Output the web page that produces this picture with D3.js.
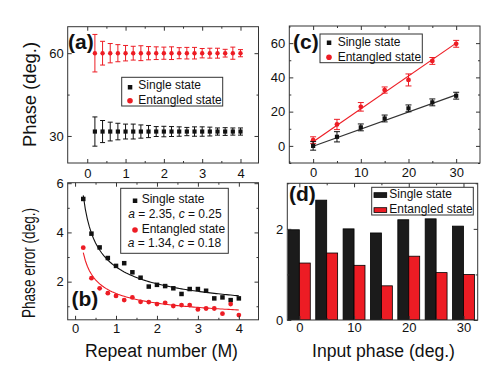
<!DOCTYPE html>
<html>
<head>
<meta charset="utf-8">
<script src="https://cdn.jsdelivr.net/npm/d3@7"></script>
<style>
  body { margin: 0; background: #fff; }
  text { font-family: "Liberation Sans", Arial, sans-serif; fill: #111; }
</style>
</head>
<body>
<script>
// ---- data ----
// (a) measured phase vs repeat number
const repeatM = [0.2, 0.4, 0.6, 0.8, 1.0, 1.2, 1.4, 1.6, 1.8, 2.0, 2.2, 2.4, 2.6, 2.8, 3.0, 3.2, 3.4, 3.6, 3.8, 4.0];
const phaseSingle = [31.6, 31.6, 31.6, 31.6, 31.6, 31.6, 31.6, 31.6, 31.6, 31.6, 31.6, 31.6, 31.6, 31.6, 31.6, 31.6, 31.6, 31.6, 31.6, 31.6];
const phaseSingleErr = [5.3, 4.0, 3.4, 3.0, 2.7, 2.7, 2.4, 2.2, 1.8, 1.9, 1.8, 1.7, 1.5, 1.7, 1.7, 1.6, 1.3, 1.4, 1.3, 1.3];
const phaseEnt = [60, 60, 60, 60, 60, 60, 60, 60, 60, 60, 60, 60, 60, 60, 60, 60, 60, 60, 60, 60];
const phaseEntErr = [6.8, 4.3, 3.5, 3.1, 2.8, 2.5, 2.7, 2.4, 2.3, 2.2, 2.3, 2.0, 2.1, 2.1, 1.7, 1.8, 1.8, 1.4, 2.2, 1.3];

// (b) phase error vs repeat number, fit y = a/sqrt(M) + c
const errSingle = [5.36, 3.95, 3.39, 2.96, 2.64, 2.75, 2.38, 2.16, 1.80, 1.87, 1.82, 1.73, 1.50, 1.70, 1.70, 1.63, 1.32, 1.36, 1.25, 1.32];
const errEnt = [3.38, 2.14, 1.73, 1.53, 1.42, 1.25, 1.36, 1.18, 1.17, 1.09, 1.14, 1.01, 1.05, 1.05, 0.87, 0.91, 0.91, 0.70, 1.09, 0.64];
const fitSingle = [2.35, 0.25]; // a, c
const fitEnt = [1.34, 0.18];

// (c) measured vs input phase
const inputPhase = [0, 5, 10, 15, 20, 25, 30];
const measSingle = [0, 5.3, 10.8, 16, 21.9, 25.4, 29.3];
const measSingleErr = [2.5, 3, 2, 2, 2, 2, 2];
const measEnt = [3.3, 12.5, 22.8, 32.6, 38.5, 49.6, 59.6];
const measEntErr = [2, 3, 2.5, 1.8, 3.5, 2, 2];
const lineX = [0, 30];
const lineSingle = [-0.2, 29.8];
const lineEnt = [2.4, 60];

// (d) phase error per input phase
const barSingle = [1.98, 2.63, 2.0, 1.91, 2.2, 2.22, 2.06];
const barEnt = [1.25, 1.47, 1.2, 0.75, 1.4, 1.04, 1.0];

const RED = "#ed1c24";
const INK = "#111";

const svg = d3.select("body").append("svg")
  .attr("width", 500)
  .attr("height", 374)
  .style("background", "#fff");

// build a framed panel with mirrored ticks
function panel(xr, yr, xd, yd, opt) {
  const x = d3.scaleLinear().domain(xd).range(xr);
  const y = d3.scaleLinear().domain(yd).range(yr);
  const g = svg.append("g");
  const clipId = "clip" + Math.round(xr[0]) + Math.round(yr[1]);
  svg.append("clipPath").attr("id", clipId).append("rect")
    .attr("x", xr[0]).attr("y", yr[1])
    .attr("width", xr[1] - xr[0]).attr("height", yr[0] - yr[1]);
  const plot = g.append("g").attr("clip-path", "url(#" + clipId + ")");

  const ax = (gen, tr) => {
    const a = g.append("g").attr("transform", tr).call(gen);
    a.select(".domain").remove();
    a.selectAll("line").attr("stroke", "#333");
    a.selectAll("text").attr("font-size", 13).attr("fill", INK)
      .style("font-family", "'Liberation Sans', Arial, sans-serif");
    return a;
  };
  // minor
  ax(d3.axisBottom(x).tickValues(opt.xMinor).tickSize(-2).tickFormat(""), `translate(0,${yr[0]})`);
  ax(d3.axisTop(x).tickValues(opt.xMinor).tickSize(-2).tickFormat(""), `translate(0,${yr[1]})`);
  ax(d3.axisLeft(y).tickValues(opt.yMinor).tickSize(-2).tickFormat(""), `translate(${xr[0]},0)`);
  ax(d3.axisRight(y).tickValues(opt.yMinor).tickSize(-2).tickFormat(""), `translate(${xr[1]},0)`);
  // major
  ax(d3.axisBottom(x).tickValues(opt.xMajor).tickSize(-4).tickPadding(opt.xPad).tickFormat(d3.format("d")), `translate(0,${yr[0]})`);
  ax(d3.axisTop(x).tickValues(opt.xMajor).tickSize(-4).tickFormat(""), `translate(0,${yr[1]})`);
  ax(d3.axisLeft(y).tickValues(opt.yMajor).tickSize(-4).tickPadding(4).tickFormat(d3.format("d")), `translate(${xr[0]},0)`);
  ax(d3.axisRight(y).tickValues(opt.yMajor).tickSize(-4).tickFormat(""), `translate(${xr[1]},0)`);

  g.append("rect")
    .attr("x", xr[0]).attr("y", yr[1])
    .attr("width", xr[1] - xr[0]).attr("height", yr[0] - yr[1])
    .attr("fill", "none").attr("stroke", "#333").attr("stroke-width", 1);
  return { x, y, g, plot };
}

function errorBars(p, xs, ys, es, color, cap) {
  const eb = p.plot.append("g").attr("stroke", color).attr("stroke-width", 1);
  xs.forEach((xv, i) => {
    const cx = p.x(xv), y0 = p.y(ys[i] - es[i]), y1 = p.y(ys[i] + es[i]);
    eb.append("line").attr("x1", cx).attr("x2", cx).attr("y1", y0).attr("y2", y1);
    eb.append("line").attr("x1", cx - cap).attr("x2", cx + cap).attr("y1", y0).attr("y2", y0);
    eb.append("line").attr("x1", cx - cap).attr("x2", cx + cap).attr("y1", y1).attr("y2", y1);
  });
}

function squares(p, xs, ys, s, color) {
  p.plot.append("g").selectAll("rect").data(xs).join("rect")
    .attr("x", (d) => p.x(d) - s / 2)
    .attr("y", (d, i) => p.y(ys[i]) - s / 2)
    .attr("width", s).attr("height", s)
    .attr("fill", color);
}

function circles(p, xs, ys, r, color) {
  p.plot.append("g").selectAll("circle").data(xs).join("circle")
    .attr("cx", (d) => p.x(d))
    .attr("cy", (d, i) => p.y(ys[i]))
    .attr("r", r)
    .attr("fill", color);
}

function label(txt, x, y) {
  svg.append("text").attr("x", x).attr("y", y)
    .attr("font-size", 21).attr("font-weight", "bold").text(txt);
}

function legendBox(x, y, w, h) {
  svg.append("rect").attr("x", x).attr("y", y).attr("width", w).attr("height", h)
    .attr("fill", "#fff").attr("stroke", "#333").attr("stroke-width", 1);
}

function legText(x, y, txt, color) {
  return svg.append("text").attr("x", x).attr("y", y)
    .attr("font-size", 12).attr("fill", color || INK).text(txt);
}

// ---- (a) ----
const pa = panel([67.7, 258.5], [163, 26.7], [-0.51, 4.47], [20.2, 69.6], {
  xMajor: [0, 1, 2, 3, 4], xMinor: [0.5, 1.5, 2.5, 3.5],
  yMajor: [30, 60], yMinor: [45], xPad: 6
});
errorBars(pa, repeatM, phaseEnt, phaseEntErr, RED, 2.5);
circles(pa, repeatM, phaseEnt, 2.2, RED);
errorBars(pa, repeatM, phaseSingle, phaseSingleErr, INK, 2.5);
squares(pa, repeatM, phaseSingle, 4.2, INK);
label("(a)", 68, 48.5);
legendBox(121.7, 77.3, 101, 28.7);
svg.append("rect").attr("x", 127.8).attr("y", 85).attr("width", 4.5).attr("height", 4.5).attr("fill", INK);
svg.append("circle").attr("cx", 130).attr("cy", 100.7).attr("r", 2.8).attr("fill", RED);
legText(138.3, 89, "Single state");
legText(138.3, 103.5, "Entangled state");

// ---- (b) ----
const pb = panel([67.7, 258.5], [319.8, 182.7], [-0.18, 4.48], [0.45, 6.02], {
  xMajor: [0, 1, 2, 3, 4], xMinor: [0.5, 1.5, 2.5, 3.5],
  yMajor: [2, 4, 6], yMinor: [1, 3, 5], xPad: 4
});
const fitLine = (prm) => d3.line()
  .x((d) => pb.x(d))
  .y((d) => pb.y(prm[0] / Math.sqrt(d) + prm[1]));
const fitM = d3.range(0.2, 4.0001, 0.05);
pb.plot.append("path").datum(fitM).attr("d", fitLine(fitSingle))
  .attr("fill", "none").attr("stroke", INK).attr("stroke-width", 1.1);
pb.plot.append("path").datum(fitM).attr("d", fitLine(fitEnt))
  .attr("fill", "none").attr("stroke", RED).attr("stroke-width", 1.1);
squares(pb, repeatM, errSingle, 4.5, INK);
circles(pb, repeatM, errEnt, 2.4, RED);
label("(b)", 71.5, 306);
legendBox(120.7, 188.3, 107.6, 65);
svg.append("rect").attr("x", 132.8).attr("y", 198.5).attr("width", 4.5).attr("height", 4.5).attr("fill", INK);
legText(141.7, 203.3, "Single state");
const lb1 = legText(128.3, 218.3, "");
lb1.append("tspan").attr("font-style", "italic").text("a");
lb1.append("tspan").text(" = 2.35, ");
lb1.append("tspan").attr("font-style", "italic").text("c");
lb1.append("tspan").text(" = 0.25");
svg.append("circle").attr("cx", 135).attr("cy", 230).attr("r", 2.8).attr("fill", RED);
legText(141.7, 232.7, "Entangled state", RED);
const lb2 = legText(127.7, 246.7, "", RED);
lb2.append("tspan").attr("font-style", "italic").text("a");
lb2.append("tspan").text(" = 1.34, ");
lb2.append("tspan").attr("font-style", "italic").text("c");
lb2.append("tspan").text(" = 0.18");

// ---- (c) ----
const pc = panel([289.3, 480], [163, 26], [-5, 35], [-10, 70], {
  xMajor: [0, 10, 20, 30], xMinor: [-5, 5, 15, 25],
  yMajor: [0, 20, 40, 60], yMinor: [-10, 10, 30, 50], xPad: 5
});
const cLine = d3.line().x((d) => pc.x(d[0])).y((d) => pc.y(d[1]));
pc.plot.append("path").datum(d3.zip(lineX, lineSingle)).attr("d", cLine)
  .attr("fill", "none").attr("stroke", "#333").attr("stroke-width", 1.2);
pc.plot.append("path").datum(d3.zip(lineX, lineEnt)).attr("d", cLine)
  .attr("fill", "none").attr("stroke", RED).attr("stroke-width", 1.2);
errorBars(pc, inputPhase, measEnt, measEntErr, RED, 3);
circles(pc, inputPhase, measEnt, 2.4, RED);
errorBars(pc, inputPhase, measSingle, measSingleErr, INK, 3);
squares(pc, inputPhase, measSingle, 4.2, INK);
label("(c)", 293, 48.5);
legendBox(320, 34, 102.3, 28.7);
svg.append("rect").attr("x", 326.8).attr("y", 40.5).attr("width", 4.5).attr("height", 4.5).attr("fill", INK);
svg.append("circle").attr("cx", 329).attr("cy", 57.3).attr("r", 2.8).attr("fill", RED);
legText(337.7, 46, "Single state");
legText(337.7, 60.5, "Entangled state");

// ---- (d) ----
const pd = panel([287.3, 477.7], [320, 183.3], [-2.2, 32.6], [0, 3], {
  xMajor: [0, 10, 20, 30], xMinor: [5, 15, 25],
  yMajor: [0, 2], yMinor: [1, 3], xPad: 3
});
const bw = pd.x(2) - pd.x(0);
pd.plot.append("g").selectAll("rect").data(inputPhase).join("rect")
  .attr("x", (d) => pd.x(d) - bw)
  .attr("y", (d, i) => pd.y(barSingle[i]))
  .attr("width", bw)
  .attr("height", (d, i) => pd.y(0) - pd.y(barSingle[i]))
  .attr("fill", "#1b1b1b").attr("stroke", "#000").attr("stroke-width", 0.8);
pd.plot.append("g").selectAll("rect").data(inputPhase).join("rect")
  .attr("x", (d) => pd.x(d))
  .attr("y", (d, i) => pd.y(barEnt[i]))
  .attr("width", bw)
  .attr("height", (d, i) => pd.y(0) - pd.y(barEnt[i]))
  .attr("fill", RED).attr("stroke", "#000").attr("stroke-width", 0.8);
label("(d)", 289, 200.5);
legendBox(371.7, 187.3, 101.6, 27.7);
svg.append("rect").attr("x", 374).attr("y", 192.7).attr("width", 12.7).attr("height", 4.7)
  .attr("fill", "#1b1b1b").attr("stroke", "#000").attr("stroke-width", 0.8);
svg.append("rect").attr("x", 374).attr("y", 207.7).attr("width", 12.7).attr("height", 4.7)
  .attr("fill", RED).attr("stroke", "#000").attr("stroke-width", 0.8);
legText(389.3, 197.5, "Single state");
legText(389.3, 212.7, "Entangled state");

// ---- axis titles ----
svg.append("text").attr("transform", "translate(36,94.5) rotate(-90)")
  .attr("text-anchor", "middle").attr("font-size", 18)
  .attr("textLength", 105).attr("lengthAdjust", "spacingAndGlyphs")
  .text("Phase (deg.)");
svg.append("text").attr("transform", "translate(35,263) rotate(-90)")
  .attr("text-anchor", "middle").attr("font-size", 18)
  .attr("textLength", 110).attr("lengthAdjust", "spacingAndGlyphs")
  .text("Phase error (deg.)");
svg.append("text").attr("x", 161.5).attr("y", 357)
  .attr("text-anchor", "middle").attr("font-size", 18)
  .attr("textLength", 153).attr("lengthAdjust", "spacingAndGlyphs")
  .text("Repeat number (M)");
svg.append("text").attr("x", 383.5).attr("y", 357)
  .attr("text-anchor", "middle").attr("font-size", 18)
  .attr("textLength", 143).attr("lengthAdjust", "spacingAndGlyphs")
  .text("Input phase (deg.)");
</script>
</body>
</html>
